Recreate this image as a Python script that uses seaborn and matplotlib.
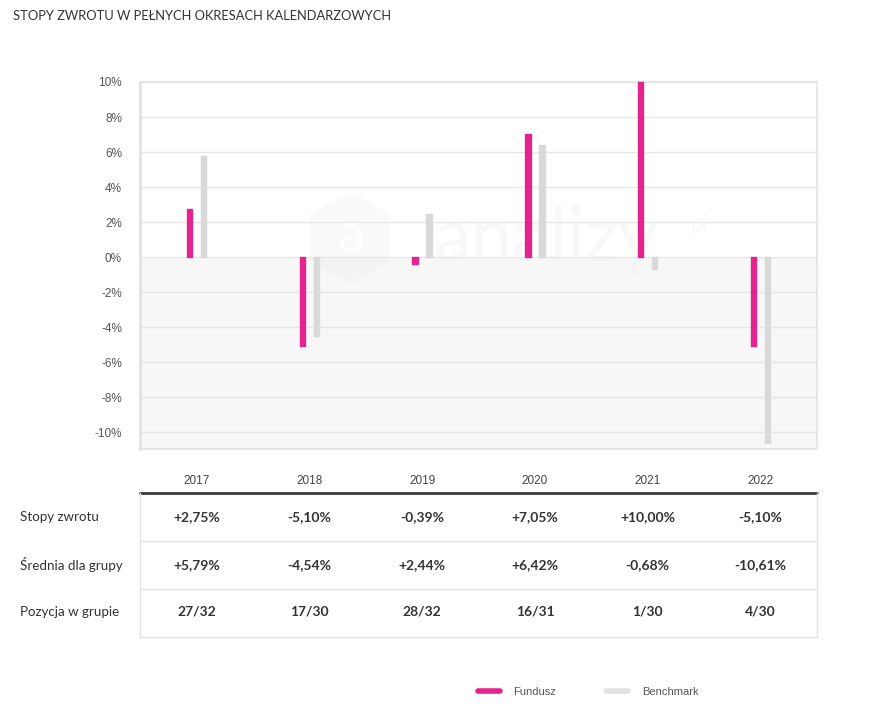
import matplotlib
matplotlib.use("Agg")
import matplotlib.pyplot as plt
from matplotlib.lines import Line2D
from matplotlib.patches import RegularPolygon
from matplotlib.transforms import IdentityTransform, blended_transform_factory
import seaborn as sns
import pandas as pd

years = ["2017", "2018", "2019", "2020", "2021", "2022"]
fundusz = [2.75, -5.10, -0.39, 7.05, 10.00, -5.10]
benchmark = [5.79, -4.54, 2.44, 6.42, -0.68, -10.61]
pozycja = ["27/32", "17/30", "28/32", "16/31", "1/30", "4/30"]
y_ticks = [10, 8, 6, 4, 2, 0, -2, -4, -6, -8, -10]
row_labels = ["Stopy zwrotu", "Średnia dla grupy", "Pozycja w grupie"]
series_names = ["Fundusz", "Benchmark"]
title = "STOPY ZWROTU W PEŁNYCH OKRESACH KALENDARZOWYCH"

PINK = "#e3238e"
GRAY = "#d9d9d9"

sns.set_style("white")
plt.rcParams["font.family"] = ["Liberation Sans", "DejaVu Sans"]

df = pd.DataFrame({
    "rok": years * 2,
    "wartosc": fundusz + benchmark,
    "seria": [series_names[0]] * len(years) + [series_names[1]] * len(years),
})

fig = plt.figure(figsize=(8.81, 7.12), dpi=100)
ax = fig.add_axes([140 / 881, 263 / 712, 677 / 881, 367 / 712])

ymin, ymax = -10.97, 10.0
ax.axhspan(ymin, 0, facecolor="#f7f7f7", edgecolor="none", zorder=0, lw=0)

sns.barplot(data=df, x="rok", y="wartosc", hue="seria", order=years,
            hue_order=series_names, palette=[PINK, GRAY], width=0.25, gap=0.62,
            dodge=True, legend=False, ax=ax, zorder=3, errorbar=None,
            saturation=1)
for cont, c in zip(ax.containers, [PINK, GRAY]):
    for p in cont:
        p.set_edgecolor(c)
        p.set_linewidth(1.0)
        p.set_joinstyle("round")
        p.set_clip_on(False)

ax.set_ylim(ymin, ymax)
ax.set_xlim(-0.5, 5.5)
ax.set_yticks(y_ticks)
ax.set_yticklabels([f"{t}%" for t in y_ticks], fontsize=8.5, color="#555555")
ax.yaxis.grid(True, color="#e6e6e6", lw=1, zorder=1)
ax.set_axisbelow(True)
ax.tick_params(axis="y", length=0, pad=13)
ax.tick_params(axis="x", length=5, color="#dddddd", width=1, pad=14,
               labelsize=8.5, labelcolor="#444444")
ax.set_xlabel("")
ax.set_ylabel("")
for s in ["left", "top", "right", "bottom"]:
    ax.spines[s].set_color("#e3e3e3")
    ax.spines[s].set_linewidth(1.2)
ax.spines["left"].set_linewidth(2)

# watermark (faint)
wm = "#eeeeee"
ax.text(3.1, 1.0, "analizy", fontsize=54, color=wm, alpha=0.4, ha="center",
        va="center", zorder=2, family="Lato")
ax.text(4.45, 1.9, "pl", fontsize=15, color=wm, alpha=0.4, ha="center",
        va="center", zorder=2, family="Lato")
hexp = RegularPolygon((350, 712 - 238), 6, radius=46, orientation=0,
                      transform=IdentityTransform(), facecolor=wm, alpha=0.35,
                      edgecolor="none", zorder=2)
ax.add_artist(hexp)
ax.text(1.37, 1.2, "a", fontsize=40, color="white", alpha=0.8, ha="center",
        va="center", zorder=2, family="Lato")

# title
fig.text(13 / 881, 1 - 16 / 712, title, fontsize=9.3, color="#333333",
         family="Lato", va="center", ha="left")

# table
trans = blended_transform_factory(ax.transData, fig.transFigure)
def fy(py):
    return 1 - py / 712

x0f, x1f = 140 / 881, 817 / 881
fig.add_artist(Line2D([x0f, x1f], [fy(493), fy(493)], color="#3a3a3a", lw=2))
for py in [541, 589, 637]:
    fig.add_artist(Line2D([x0f, x1f], [fy(py), fy(py)], color="#e3e3e3", lw=1))
fig.add_artist(Line2D([x0f, x0f], [fy(493), fy(637)], color="#e3e3e3", lw=1))
fig.add_artist(Line2D([x1f, x1f], [fy(493), fy(637)], color="#e3e3e3", lw=1))

def fmt(v):
    return f"{v:+.2f}%".replace(".", ",")

rows = [[fmt(v) for v in fundusz], [fmt(v) for v in benchmark], pozycja]
row_y = [517, 565, 612]
for lbl, vals, py in zip(row_labels, rows, row_y):
    fig.text(20 / 881, fy(py), lbl, fontsize=9.6, color="#333333",
             va="center", ha="left", family="Lato")
    for i, v in enumerate(vals):
        fig.text(i, fy(py), v, transform=trans, fontsize=10, color="#333333",
                 va="center", ha="center", family="Lato", fontweight="bold")

# legend
handles = [Line2D([0], [0], color=PINK, lw=4, solid_capstyle="round"),
           Line2D([0], [0], color="#e3e3e3", lw=4, solid_capstyle="round")]
leg = fig.legend(handles, series_names, loc="center", ncol=2,
                 bbox_to_anchor=(588 / 881, 20 / 712), frameon=False,
                 fontsize=8, handlelength=2.0, columnspacing=4.5,
                 handletextpad=1.2)
for t in leg.get_texts():
    t.set_color("#555555")

fig.savefig("out.png", dpi=100)
